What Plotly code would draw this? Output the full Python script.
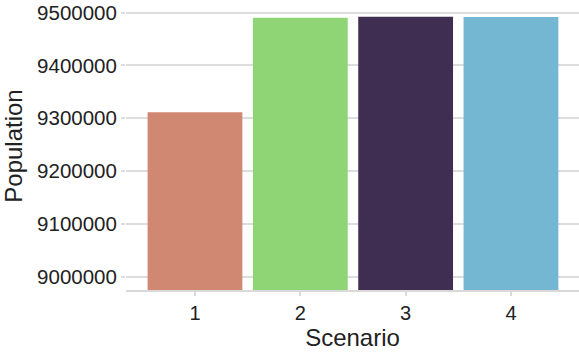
import plotly.graph_objects as go

scenarios = [1, 2, 3, 4]
population = [9311500, 9490000, 9492000, 9491500]
bar_colors = ["#D08873", "#8FD475", "#402D52", "#74B7D3"]
y_ticks = [9000000, 9100000, 9200000, 9300000, 9400000, 9500000]

fig = go.Figure(go.Bar(x=scenarios, y=population, marker=dict(color=bar_colors, line=dict(width=0))))

fig.update_layout(
    width=579, height=354,
    margin=dict(l=126, r=0, t=2, b=64, autoexpand=False),
    plot_bgcolor="white", paper_bgcolor="white",
    bargap=0.1,
    showlegend=False,
    font=dict(family="Liberation Sans, Arial, sans-serif", color="#222222"),
)
fig.update_xaxes(
    automargin=False,
    range=[0.345, 4.646], tickvals=scenarios, ticktext=[str(s) for s in scenarios],
    showgrid=False, zeroline=False,
    showline=True, linecolor="#D9D9D9", linewidth=1.5,
    ticks="outside", ticklen=4, tickcolor="#D9D9D9", tickwidth=1.5,
    tickfont=dict(size=20, color="#222222"),
    title=dict(text="Scenario", font=dict(size=24, color="#222222"), standoff=3),
)
fig.update_yaxes(
    automargin=False,
    range=[8975000, 9520000], tickvals=y_ticks, ticktext=[str(v) for v in y_ticks],
    showgrid=True, gridcolor="#DDDDDD", gridwidth=1.5, zeroline=False,
    showline=False,
    ticks="outside", ticklen=4, tickcolor="#DDDDDD", tickwidth=1.5,
    tickfont=dict(size=20.5, color="#222222"),
    title=dict(text="Population", font=dict(size=24, color="#222222"), standoff=10),
)

fig.write_html(
    "out.html",
    config={"displayModeBar": False},
    post_script="document.body.style.margin='0';document.body.style.overflow='hidden';",
)
